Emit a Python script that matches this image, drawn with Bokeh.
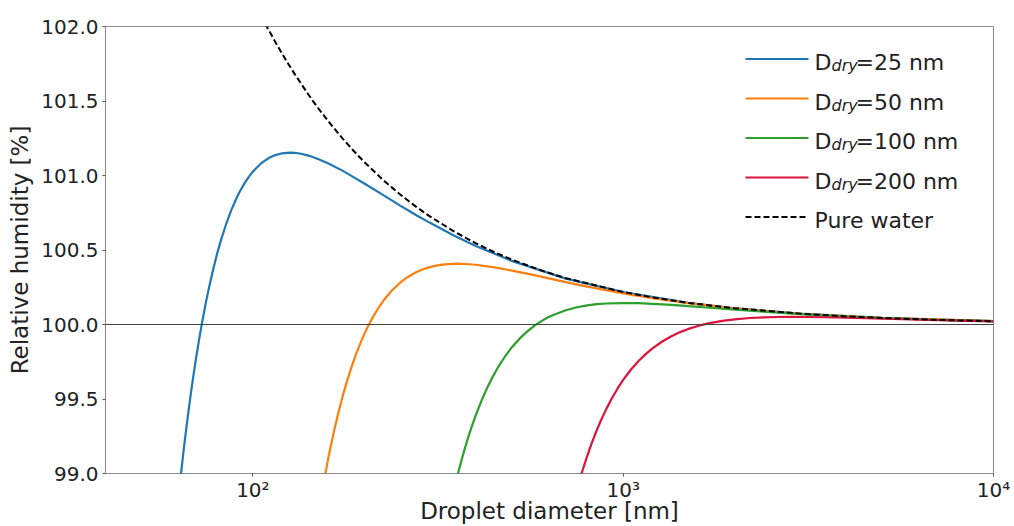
from bokeh.plotting import figure
from bokeh.models import (FixedTicker, Range1d, Span, Label, Arrow, PrintfTickFormatter)
from bokeh.embed import file_html
from bokeh.resources import INLINE

# ---- data ----
water_d = [100, 105, 110, 115, 120, 125, 130, 140, 145, 150, 160, 175, 187, 200, 225, 250,
           275, 300, 350, 400, 450, 500, 600, 700, 1000, 1200, 1500, 2000, 3000, 4000,
           5000, 7000, 10000]
water_rh = [102.18, 102.076, 101.982, 101.896, 101.817, 101.744, 101.677, 101.557, 101.503,
            101.453, 101.363, 101.246, 101.166, 101.09, 100.969, 100.872, 100.793, 100.727,
            100.623, 100.545, 100.484, 100.436, 100.363, 100.311, 100.218, 100.182, 100.145,
            100.109, 100.073, 100.0545, 100.044, 100.031, 100.022]

d25_d = [63, 64, 65, 66, 67, 68, 69, 70, 71.5, 73, 74.5, 76, 78, 80, 82, 85, 87.5, 90,
         92.5, 95, 97.5, 100, 105, 110, 115, 120, 126, 130, 135, 142, 150, 160, 175, 187,
         200, 225, 250, 275, 300, 350, 400, 500, 700, 1000, 1500, 2000, 3000, 5000, 10000]
d25_rh = [98.845, 99.004, 99.152, 99.289, 99.417, 99.536, 99.647, 99.750, 99.892, 100.020,
          100.135, 100.239, 100.363, 100.471, 100.566, 100.686, 100.769, 100.839, 100.899,
          100.949, 100.991, 101.026, 101.079, 101.115, 101.137, 101.149, 101.153, 101.152,
          101.146, 101.132, 101.111, 101.081, 101.031, 100.989, 100.946, 100.868, 100.798,
          100.737, 100.684, 100.596, 100.527, 100.427, 100.308, 100.217, 100.145, 100.109,
          100.073, 100.044, 100.022]

d50_d = [150, 155, 160, 165, 170, 175, 180, 185, 190, 195, 200, 205, 210, 217, 225, 237,
         250, 262, 275, 287, 300, 315, 330, 356, 375, 400, 450, 500, 550, 600, 700, 800,
         1000, 1200, 1500, 2000, 3000, 5000, 10000]
d50_rh = [98.718, 98.928, 99.109, 99.267, 99.403, 99.524, 99.628, 99.721, 99.801, 99.873,
          99.936, 99.992, 100.041, 100.101, 100.159, 100.226, 100.281, 100.319, 100.349,
          100.369, 100.385, 100.397, 100.404, 100.408, 100.406, 100.401, 100.383, 100.362,
          100.341, 100.321, 100.284, 100.2545, 100.209, 100.176, 100.143, 100.108, 100.072,
          100.044, 100.022]

d100_d = [350, 355, 360, 370, 380, 390, 400, 415, 430, 445, 460, 480, 500, 525, 550, 575,
          600, 625, 650, 700, 750, 800, 850, 900, 1000, 1100, 1200, 1350, 1500, 1750,
          2000, 2500, 3000, 4000, 5000, 7000, 10000]
d100_rh = [98.902, 98.9645, 99.024, 99.132, 99.229, 99.315, 99.392, 99.493, 99.579, 99.652,
           99.716, 99.787, 99.846, 99.905, 99.952, 99.991, 100.021, 100.0465, 100.066,
           100.096, 100.1158, 100.128, 100.1363, 100.141, 100.144, 100.1428, 100.139,
           100.1315, 100.123, 100.1108, 100.100, 100.0825, 100.070, 100.0533, 100.043,
           100.0309, 100.022]

d200_d = [760, 770, 780, 800, 820, 845, 870, 900, 930, 965, 1000, 1050, 1100, 1150, 1200,
          1275, 1350, 1425, 1500, 1600, 1700, 1850, 2000, 2200, 2400, 2600, 2850, 3150,
          3500, 4500, 6000, 8000, 10000]
d200_rh = [98.942, 98.990, 99.035, 99.119, 99.195, 99.2795, 99.354, 99.432, 99.500, 99.569,
           99.628, 99.698, 99.755, 99.801, 99.840, 99.886, 99.9215, 99.949, 99.9704, 99.992,
           100.008, 100.0246, 100.035, 100.0437, 100.048, 100.0502, 100.051, 100.0503,
           100.0485, 100.0419, 100.0336, 100.0261, 100.0212]

series_labels = ["25 nm", "50 nm", "100 nm", "200 nm"]
water_label = "Pure water"
x_ticks = [100, 1000, 10000]
x_tick_labels = ["10\u00b2", "10\u00b3", "10\u2074"]
y_ticks = [99.0, 99.5, 100.0, 100.5, 101.0, 101.5, 102.0]

colors = ["#1f77b4", "#ff7f0e", "#2ca02c", "#dc143c"]
FONT = "DejaVu Sans"
TXT = "#222222"

p = figure(width=1010, height=526, x_axis_type="log",
           x_range=Range1d(40, 10000), y_range=Range1d(99.0, 102.0),
           output_backend="svg", toolbar_location=None,
           min_border_left=105, min_border_right=17, min_border_top=26,
           min_border_bottom=50)
p.xgrid.visible = False
p.ygrid.visible = False
p.outline_line_color = "#8a8a8a"
p.outline_line_width = 1
p.background_fill_color = "white"
p.border_fill_color = "white"

for ax in (p.xaxis[0], p.yaxis[0]):
    ax.axis_line_color = None
    ax.major_tick_line_color = "#555555"
    ax.major_tick_out = 3
    ax.major_tick_in = 0
    ax.minor_tick_line_color = None
    ax.major_label_text_font = FONT
    ax.major_label_text_font_size = "20px"
    ax.major_label_text_color = TXT
    ax.axis_label_text_font = FONT
    ax.axis_label_text_font_size = "23px"
    ax.axis_label_text_font_style = "normal"
    ax.axis_label_text_color = TXT

p.xaxis.ticker = FixedTicker(ticks=x_ticks)
p.xaxis.major_label_overrides = {t: s for t, s in zip(x_ticks, x_tick_labels)}
p.xaxis.axis_label = "Droplet diameter [nm]"
p.xaxis.axis_label_standoff = -7
p.xaxis.major_label_standoff = 1
p.yaxis.ticker = FixedTicker(ticks=y_ticks)
p.yaxis.formatter = PrintfTickFormatter(format="%.1f")
p.yaxis.axis_label = "Relative humidity [%]"
p.yaxis.axis_label_standoff = 5
p.yaxis.major_label_standoff = 4

p.add_layout(Span(location=100.0, dimension="width", line_color="#444444", line_width=1.2))

for d, rh, c in zip([d25_d, d50_d, d100_d, d200_d], [d25_rh, d50_rh, d100_rh, d200_rh], colors):
    p.line(x=d, y=rh, line_color=c, line_width=2.2)
p.line(x=water_d, y=water_rh, line_color="black", line_width=2, line_dash="6 3")

# ---- custom legend (screen units relative to the frame) ----
row0 = 414.5
dy = 39.5
for i, lab in enumerate(series_labels + [water_label]):
    ly = row0 - dy * i
    color = colors[i] if i < 4 else "black"
    p.add_layout(Arrow(x_start=640, y_start=ly, x_end=703, y_end=ly,
                       start_units="screen", end_units="screen", end=None,
                       line_color=color, line_width=2.2 if i < 4 else 2,
                       line_dash="solid" if i < 4 else "6 3"))
    base = ly - 3.5
    if i < 4:
        p.add_layout(Label(x=709, y=base, x_units="screen", y_units="screen", text="D",
                           text_font=FONT, text_font_size="22px", text_color=TXT,
                           text_baseline="alphabetic"))
        p.add_layout(Label(x=726, y=base - 3, x_units="screen", y_units="screen", text="dry",
                           text_font=FONT, text_font_size="16px", text_font_style="italic",
                           text_color=TXT, text_baseline="alphabetic"))
        p.add_layout(Label(x=750, y=base, x_units="screen", y_units="screen", text="=" + lab,
                           text_font=FONT, text_font_size="22px", text_color=TXT,
                           text_baseline="alphabetic"))
    else:
        p.add_layout(Label(x=709, y=base, x_units="screen", y_units="screen", text=lab,
                           text_font=FONT, text_font_size="22px", text_color=TXT,
                           text_baseline="alphabetic"))

open("out.html", "w").write(file_html(p, INLINE))
